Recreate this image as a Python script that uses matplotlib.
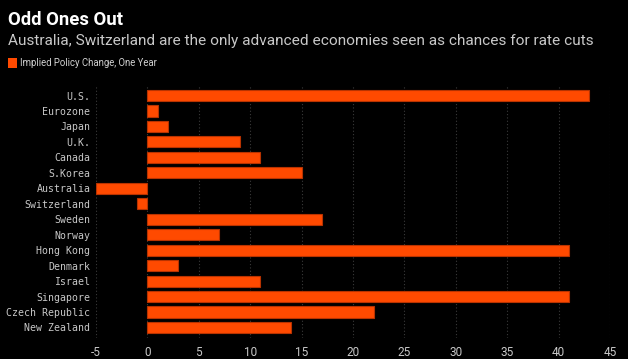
import matplotlib
matplotlib.use("Agg")
import matplotlib.pyplot as plt

categories = ["U.S.", "Eurozone", "Japan", "U.K.", "Canada", "S.Korea", "Australia",
              "Switzerland", "Sweden", "Norway", "Hong Kong", "Denmark", "Israel",
              "Singapore", "Czech Republic", "New Zealand"]
values = [43, 1, 2, 9, 11, 15, -5, -1, 17, 7, 41, 3, 11, 41, 22, 14]
xticks = [-5, 0, 5, 10, 15, 20, 25, 30, 35, 40, 45]
title = "Odd Ones Out"
subtitle = "Australia, Switzerland are the only advanced economies seen as chances for rate cuts"
legend_label = "Implied Policy Change, One Year"

FONT = ["Roboto", "DejaVu Sans"]

W, H = 628, 359
fig = plt.figure(figsize=(W / 100, H / 100), dpi=100, facecolor="black")
ax = fig.add_axes([96 / W, 1 - 338 / H, (610 - 96) / W, (338 - 85) / H], facecolor="black")

bar_color = "#ff4a00"
ypos = list(range(len(categories)))
ax.barh(ypos, values, height=0.72, color=bar_color, edgecolor="#b83300", linewidth=0.8, zorder=3)
ax.set_ylim(len(categories) - 1 + 0.68, -0.68)
ax.set_xlim(-5, 45)
ax.set_xticks(xticks)
ax.set_xticklabels([str(t) for t in xticks])
ax.set_yticks(ypos)
ax.set_yticklabels(categories)
for t in xticks:
    ax.axvline(t, color="#3a3a3a", linestyle=(0, (1, 2)), linewidth=0.8, zorder=1)
for s in ax.spines.values():
    s.set_visible(False)
ax.tick_params(axis="both", length=0, colors="#c8c8c8")
for lab in ax.get_yticklabels():
    lab.set_fontfamily("DejaVu Sans Mono")
    lab.set_fontsize(7.1)
for lab in ax.get_xticklabels():
    lab.set_fontfamily(FONT)
    lab.set_fontsize(8.5)
ax.tick_params(axis="y", pad=4)
ax.tick_params(axis="x", pad=6)

fig.text(8 / W, 1 - 20 / H, title, color="white", fontsize=13.3, fontweight="bold",
         va="center", ha="left", family=FONT)
fig.text(8 / W, 1 - 41 / H, subtitle, color="#c8c8c8", fontsize=11.1, va="center", ha="left",
         family=FONT)
fig.patches.append(plt.Rectangle((8 / W, 1 - 68 / H), 9 / W, 10 / H, transform=fig.transFigure,
                                 facecolor=bar_color, edgecolor="none"))
fig.text(20 / W, 1 - 63 / H, legend_label, color="#d0d0d0", fontsize=6.9, va="center", ha="left",
         family=FONT)

fig.savefig("out.png", dpi=100, facecolor="black")
